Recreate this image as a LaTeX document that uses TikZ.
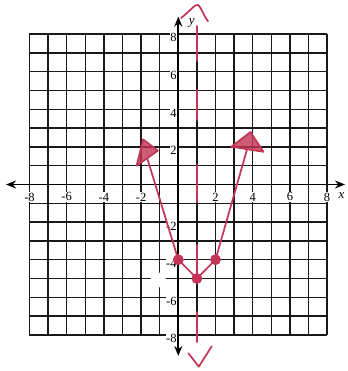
\documentclass[tikz,border=0pt]{standalone}
\usepackage{fontspec}
\setmainfont{Liberation Serif}
\usetikzlibrary{arrows.meta}
\definecolor{ink}{RGB}{196,52,86}
\begin{document}
\begin{tikzpicture}[x=18.6pt,y=18.8pt,
  gridline/.style={line width=1.4pt, black!90},
  axis/.style={line width=1.8pt, black, {Stealth[length=10pt,width=8pt]}-{Stealth[length=10pt,width=8pt]}},
  ticklab/.style={font=\fontsize{12.5}{14}\selectfont, fill=white, inner sep=0.6pt},
  axislab/.style={font=\fontsize{13}{15}\selectfont\itshape, inner sep=0pt},
  pen/.style={ink, line width=1.7pt, line cap=round, line join=round},
  headm/.style={pen, fill=ink, fill opacity=0.8},
  dotm/.style={circle, fill=ink, draw=ink, minimum size=10pt, inner sep=0pt, fill opacity=0.85},
]
\useasboundingbox (-9.586,-9.92) rectangle (9.07,9.814);
\fill[white] (-9.586,-9.92) rectangle (9.07,9.814);
% grid
\draw[gridline, xstep=1, ystep=1] (-8,-8) grid (8,8);
% tick labels
\foreach \v in {-8,-6,-4,-2,2,4,6,8}{
  \node[ticklab] (xl\v) at (\v,-0.66) {\v};
  \node[ticklab, anchor=east] (yl\v) at (-0.05,\v-0.2) {\v};
}
% axes
\coordinate (xa) at (-9.26,0);
\coordinate (xb) at (8.96,0);
\coordinate (ya) at (0,-9.12);
\coordinate (yb) at (0,8.93);
\draw[axis] (xa) -- (xb);
\draw[axis] (ya) -- (yb);
\node[axislab] (xlab) at (8.78,-0.56) {x};
\node[axislab] (ylab) at (0.72,8.57) {y};
% white smudge
\fill[white] (-1.08,-5.08) ellipse (0.42 and 0.4);
% red axis of symmetry (dashed by hand)
\draw[pen] (1,8.43) -- (1,6.57);
\draw[pen] (1,5.03) -- (1,3.43);
\draw[pen] (1,1.04) -- (1,-0.93);
\draw[pen] (1,-3.22) -- (1,-5.08);
\draw[pen] (1,-6.78) -- (1,-8.38);
% hand-drawn end marks
\coordinate (ca) at (0.15,8.85);
\coordinate (cb) at (1.05,9.55);
\coordinate (cc) at (1.6,8.68);
\draw[pen] (ca) .. controls (0.7,9.3) and (0.9,9.6) .. (cb) .. controls (1.2,9.5) and (1.4,8.9) .. (cc);
\coordinate (va) at (0.55,-8.98);
\coordinate (vb) at (1.1,-9.69);
\coordinate (vc) at (1.8,-8.6);
\draw[pen] (va) -- (vb) -- (vc);
% V graph
\node[dotm] (p0) at (0,-4) {};
\node[dotm] (p1) at (1,-5) {};
\node[dotm] (p2) at (2,-4) {};
\coordinate (L) at (-1.67,1.4);
\coordinate (R) at (3.7,1.88);
\draw[pen] (L) -- (p0.center) -- (p1.center) -- (p2.center) -- (R);
\filldraw[headm] (-1.89,2.4) -- (-1.1,1.8) -- (-2.24,1.0) -- cycle;
\filldraw[headm] (3.88,2.79) -- (2.85,2.01) -- (4.58,1.74) -- cycle;
\node[dotm] at (p0) {};
\node[dotm] at (p1) {};
\node[dotm] at (p2) {};
\end{tikzpicture}
\end{document}
